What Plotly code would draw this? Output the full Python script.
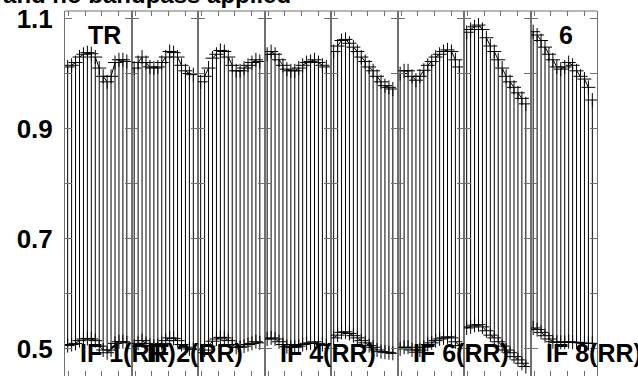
import plotly.graph_objects as go
from plotly.subplots import make_subplots

channels = list(range(1, 17))
if_labels = ["IF 1(RR)", "IF 2(RR)", "", "IF 4(RR)", "", "IF 6(RR)", "", "IF 8(RR)"]

top_p1 = [1.012, 1.015, 1.020, 1.030, 1.035, 1.038, 1.036, 1.030, 1.010, 0.995, 0.985, 0.995, 1.020, 1.025, 1.025, 1.022]
top_p2 = [1.010, 1.020, 1.030, 1.020, 1.012, 1.010, 1.012, 1.020, 1.030, 1.040, 1.038, 1.030, 1.015, 1.005, 1.000, 0.998]
top_p3 = [0.985, 0.995, 1.010, 1.028, 1.035, 1.042, 1.040, 1.030, 1.015, 1.005, 1.005, 1.010, 1.015, 1.020, 1.025, 1.022]
top_p4 = [1.035, 1.040, 1.035, 1.025, 1.015, 1.008, 1.005, 1.005, 1.010, 1.015, 1.020, 1.022, 1.025, 1.020, 1.015, 1.012]
top_p5 = [1.040, 1.050, 1.060, 1.062, 1.055, 1.048, 1.040, 1.030, 1.022, 1.012, 1.005, 0.995, 0.985, 0.978, 0.975, 0.972]
top_p6 = [1.000, 1.005, 1.005, 0.995, 0.988, 0.995, 1.006, 1.015, 1.022, 1.030, 1.035, 1.040, 1.043, 1.040, 1.025, 1.012]
top_p7 = [1.075, 1.080, 1.085, 1.088, 1.080, 1.065, 1.050, 1.040, 1.025, 1.010, 0.995, 0.985, 0.975, 0.965, 0.955, 0.945]
top_p8 = [1.076, 1.070, 1.060, 1.048, 1.035, 1.025, 1.012, 1.008, 1.012, 1.020, 1.015, 1.005, 0.995, 0.990, 0.975, 0.952]

bot_p1 = [0.506, 0.508, 0.510, 0.515, 0.518, 0.519, 0.518, 0.515, 0.505, 0.498, 0.493, 0.498, 0.510, 0.513, 0.513, 0.511]
bot_p2 = [0.505, 0.510, 0.515, 0.510, 0.506, 0.505, 0.506, 0.510, 0.515, 0.520, 0.519, 0.515, 0.508, 0.503, 0.500, 0.499]
bot_p3 = [0.493, 0.498, 0.505, 0.514, 0.518, 0.521, 0.520, 0.515, 0.508, 0.503, 0.503, 0.505, 0.508, 0.510, 0.513, 0.511]
bot_p4 = [0.518, 0.520, 0.518, 0.513, 0.508, 0.504, 0.503, 0.503, 0.505, 0.508, 0.510, 0.511, 0.513, 0.510, 0.508, 0.506]
bot_p5 = [0.520, 0.525, 0.530, 0.531, 0.528, 0.524, 0.520, 0.515, 0.511, 0.506, 0.503, 0.498, 0.495, 0.494, 0.493, 0.492]
bot_p6 = [0.500, 0.503, 0.503, 0.498, 0.494, 0.498, 0.503, 0.508, 0.511, 0.515, 0.518, 0.520, 0.522, 0.520, 0.513, 0.506]
bot_p7 = [0.538, 0.540, 0.543, 0.544, 0.540, 0.533, 0.525, 0.520, 0.513, 0.505, 0.498, 0.493, 0.486, 0.480, 0.474, 0.468]
bot_p8 = [0.538, 0.535, 0.530, 0.524, 0.518, 0.513, 0.512, 0.512, 0.512, 0.513, 0.512, 0.512, 0.511, 0.510, 0.510, 0.510]

tops = [top_p1, top_p2, top_p3, top_p4, top_p5, top_p6, top_p7, top_p8]
bots = [bot_p1, bot_p2, bot_p3, bot_p4, bot_p5, bot_p6, bot_p7, bot_p8]

y_tickvals = [0.5, 0.6, 0.7, 0.8, 0.9, 1.0, 1.1]
y_ticktext = ["0.5", "", "0.7", "", "0.9", "", "1.1"]
x_tickvals = [1.3, 5.5, 9.7, 13.9]

FONT = "Liberation Sans"
GRAY = "#707070"
FS_TICK = 26
FS = 25

fig = make_subplots(rows=1, cols=8, shared_yaxes=True, horizontal_spacing=0)

for p in range(8):
    t, b = tops[p], bots[p]
    xs, ys = [], []
    for i, ch in enumerate(channels):
        xs += [ch, ch]
        if i % 2 == 0:
            ys += [t[i], b[i]]
        else:
            ys += [b[i], t[i]]
    fig.add_trace(go.Scatter(x=xs, y=ys, mode="lines",
                             line=dict(color="black", width=1),
                             showlegend=False, hoverinfo="skip"), row=1, col=p + 1)
    fig.add_trace(go.Scatter(x=channels + channels, y=t + b, mode="markers",
                             marker=dict(symbol="cross-thin", size=10, color="black",
                                         line=dict(color="black", width=1)),
                             showlegend=False), row=1, col=p + 1)
    fig.update_xaxes(range=[0.326, 17.18], showgrid=False, zeroline=False,
                     showline=False, ticks="inside", mirror="ticks", ticklen=5,
                     tickcolor=GRAY, tickvals=x_tickvals, showticklabels=False,
                     automargin=False, row=1, col=p + 1)
    fig.update_yaxes(range=[0.4508, 1.1136], showgrid=False, zeroline=False,
                     showline=True, linecolor=GRAY, linewidth=1, mirror="ticks",
                     ticks="inside", ticklen=7, tickcolor=GRAY,
                     tickvals=y_tickvals, ticktext=y_ticktext,
                     showticklabels=(p == 0), ticklabelstandoff=6,
                     automargin=False,
                     tickfont=dict(family=FONT, size=FS_TICK, color="black", weight="bold"),
                     row=1, col=p + 1)
    if if_labels[p]:
        xref = "x" if p == 0 else "x%d" % (p + 1)
        fig.add_annotation(x=0.0, xref=xref + " domain", xshift=13, xanchor="left",
                           y=0.5, yref="y", yshift=-4, yanchor="middle",
                           text="<b>%s</b>" % if_labels[p], showarrow=False,
                           font=dict(family=FONT, size=FS, color="black"))

fig.add_shape(type="line", xref="paper", yref="paper", x0=0, x1=1, y0=1, y1=1,
              line=dict(color=GRAY, width=1))

fig.add_annotation(x=0.0, xref="x domain", xshift=21, xanchor="left",
                   y=1.0, yref="paper", yshift=-24, yanchor="middle",
                   text="<b>TR</b>", showarrow=False,
                   font=dict(family=FONT, size=FS, color="black"))
fig.add_annotation(x=0.0, xref="x8 domain", xshift=26, xanchor="left",
                   y=1.0, yref="paper", yshift=-24, yanchor="middle",
                   text="<b>6</b>", showarrow=False,
                   font=dict(family=FONT, size=FS, color="black"))
fig.add_annotation(x=(293 - 65) / 532, xref="paper", xanchor="right",
                   y=1.0, yref="paper", yshift=1, yanchor="bottom",
                   text="<b>Calibrated and no bandpass applied</b>", showarrow=False,
                   font=dict(family=FONT, size=24, color="black"))

fig.update_layout(width=638, height=376, margin=dict(l=65, r=41, t=11, b=0),
                  paper_bgcolor="white", plot_bgcolor="white")

fig.write_html("out.html", config={"displayModeBar": False},
               post_script="document.body.style.margin='0px';")
